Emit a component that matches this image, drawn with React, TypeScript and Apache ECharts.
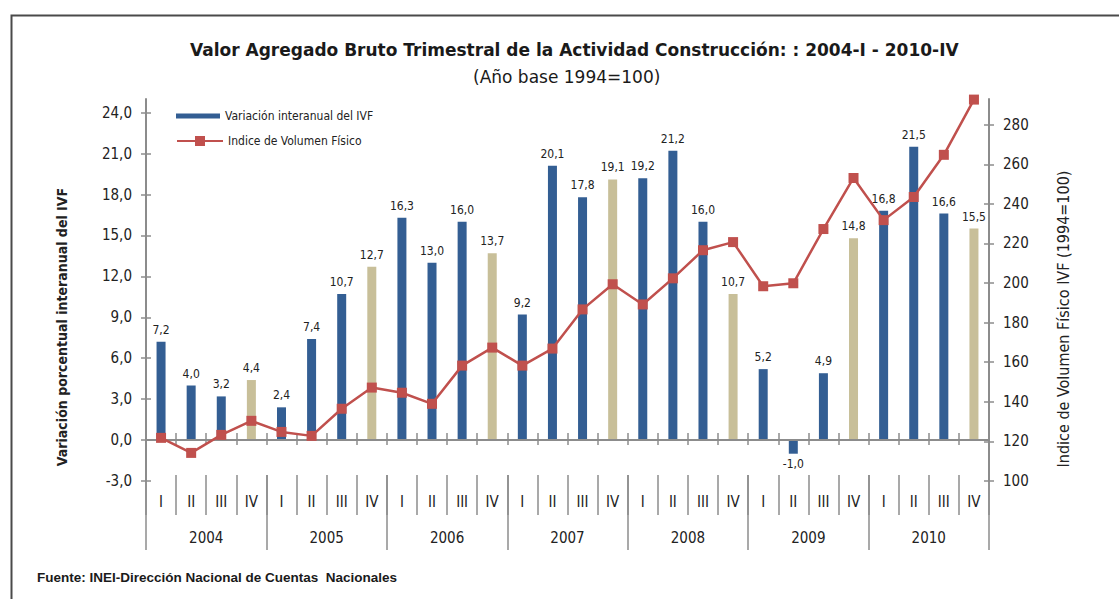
import React, { useEffect, useRef } from 'react';
import * as echarts from 'echarts';

const years = ['2004', '2005', '2006', '2007', '2008', '2009', '2010'];
const quarterNames = ['I', 'II', 'III', 'IV'];
const quarters = years.flatMap(() => quarterNames);

// Variación interanual del IVF (%)
const variacion = [
  7.2, 4.0, 3.2, 4.4,
  2.4, 7.4, 10.7, 12.7,
  16.3, 13.0, 16.0, 13.7,
  9.2, 20.1, 17.8, 19.1,
  19.2, 21.2, 16.0, 10.7,
  5.2, -1.0, 4.9, 14.8,
  16.8, 21.5, 16.6, 15.5,
];

// Indice de Volumen Físico (1994=100)
const indice = [
  121.8, 114.2, 123.3, 130.4,
  124.8, 122.8, 136.5, 147.2,
  144.6, 139.0, 158.3, 167.4,
  158.3, 166.9, 186.7, 199.4,
  189.2, 202.4, 216.6, 220.7,
  198.4, 199.9, 227.3, 253.1,
  231.8, 243.5, 264.8, 292.7,
];

const leftTicks = [-3, 0, 3, 6, 9, 12, 15, 18, 21, 24];
const rightTicks = [100, 120, 140, 160, 180, 200, 220, 240, 260, 280];

const barName = 'Variación interanual del IVF';
const lineName = 'Indice de Volumen Físico';

const NARROW = '"Liberation Sans Narrow", "DejaVu Sans Condensed", "Arial Narrow", sans-serif';
const SANS = '"Liberation Sans", Arial, sans-serif';
const WIDE = '"DejaVu Sans", Verdana, sans-serif';
const AXIS = '#8c8c8c';
const TEXT = '#222';
const BLUE = '#335E93';
const TAN = '#C8BF99';
const RED = '#C0504D';

const fmt = (v: number) => v.toFixed(1).replace('.', ',');

export default function App() {
  const ref = useRef<HTMLDivElement>(null);

  useEffect(() => {
    if (!ref.current) return;
    const chart = echarts.init(ref.current, null, { renderer: 'svg' });

    const axisLineStyle = { color: AXIS, width: 2 };
    const tickStyle = { color: AXIS, width: 1.5 };

    const option: any = {
      animation: false,
      backgroundColor: '#fff',
      title: [
        {
          text: 'Valor Agregado Bruto Trimestral de la Actividad Construcción: : 2004-I - 2010-IV',
          left: 190,
          top: 41,
          padding: 0,
          textStyle: { fontFamily: WIDE, fontWeight: 'bold', fontSize: 17, color: '#1a1a1a' },
        },
        {
          text: '(Año base 1994=100)',
          left: 473,
          top: 68,
          padding: 0,
          textStyle: { fontFamily: WIDE, fontWeight: 'normal', fontSize: 17, color: '#1a1a1a' },
        },
        {
          text: 'Fuente: INEI-Dirección Nacional de Cuentas  Nacionales',
          left: 37,
          top: 570,
          padding: 0,
          textStyle: { fontFamily: SANS, fontWeight: 'bold', fontSize: 13.5, color: '#1a1a1a' },
        },
      ],
      legend: [
        {
          data: [{ name: barName, icon: 'rect' }],
          left: 176,
          top: 110,
          padding: 0,
          itemWidth: 44,
          itemHeight: 5,
          itemGap: 5,
          selectedMode: false,
          textStyle: { fontFamily: NARROW, fontSize: 12, color: TEXT },
        },
        {
          data: [lineName],
          left: 176,
          top: 135,
          padding: 0,
          itemWidth: 46,
          itemHeight: 12.5,
          selectedMode: false,
          textStyle: { fontFamily: NARROW, fontSize: 12, color: TEXT },
        },
      ],
      grid: { left: 146, right: 130, top: 99, bottom: 118, containLabel: false },
      xAxis: [
        {
          type: 'category',
          data: quarters,
          position: 'bottom',
          boundaryGap: true,
          axisLine: { show: true, onZero: true, onZeroAxisIndex: 0, lineStyle: axisLineStyle },
          axisTick: { show: true, length: 5, lineStyle: tickStyle },
          axisLabel: { show: false },
          splitLine: { show: false },
          z: 3,
        },
        {
          type: 'category',
          data: quarters,
          position: 'bottom',
          boundaryGap: true,
          axisLine: { show: true, onZero: true, onZeroAxisIndex: 0, lineStyle: axisLineStyle },
          axisTick: { show: true, inside: true, length: 7, lineStyle: tickStyle },
          axisLabel: { show: false },
          splitLine: { show: false },
          z: 3,
        },
        {
          type: 'category',
          data: quarters,
          position: 'bottom',
          offset: -6,
          boundaryGap: true,
          axisLine: { show: false, onZero: false },
          axisTick: { show: true, length: 40, lineStyle: tickStyle },
          axisLabel: { show: true, margin: 19, fontFamily: NARROW, fontSize: 15, color: TEXT, interval: 0 },
          splitLine: { show: false },
        },
        {
          type: 'category',
          data: years,
          position: 'bottom',
          offset: -6,
          boundaryGap: true,
          axisLine: { show: false, onZero: false },
          axisTick: { show: true, length: 75, lineStyle: tickStyle },
          axisLabel: { show: true, margin: 55, fontFamily: NARROW, fontSize: 15, color: TEXT, interval: 0 },
          splitLine: { show: false },
        },
      ],
      yAxis: [
        {
          type: 'value',
          position: 'left',
          min: -3,
          max: 25,
          interval: 3,
          axisLine: { show: true, lineStyle: axisLineStyle },
          axisTick: { show: true, length: 5, lineStyle: tickStyle, customValues: leftTicks },
          axisLabel: {
            show: true,
            margin: 14,
            customValues: leftTicks,
            formatter: (v: number) => fmt(v),
            fontFamily: NARROW,
            fontSize: 15,
            color: TEXT,
          },
          splitLine: { show: false },
        },
        {
          type: 'value',
          position: 'right',
          min: 100,
          max: 293,
          interval: 20,
          axisLine: { show: true, lineStyle: axisLineStyle },
          axisTick: { show: true, length: 5, lineStyle: tickStyle, customValues: rightTicks },
          axisLabel: {
            show: true,
            margin: 14,
            customValues: rightTicks,
            fontFamily: NARROW,
            fontSize: 15,
            color: TEXT,
          },
          splitLine: { show: false },
        },
        {
          type: 'value',
          position: 'left',
          min: -3,
          max: 25,
          interval: 3,
          axisLine: { show: false },
          axisTick: { show: true, inside: true, length: 5, lineStyle: tickStyle, customValues: leftTicks },
          axisLabel: { show: false },
          splitLine: { show: false },
        },
        {
          type: 'value',
          position: 'right',
          min: 100,
          max: 293,
          interval: 20,
          axisLine: { show: false },
          axisTick: { show: true, inside: true, length: 5, lineStyle: tickStyle, customValues: rightTicks },
          axisLabel: { show: false },
          splitLine: { show: false },
        },
      ],
      series: [
        {
          name: barName,
          type: 'bar',
          xAxisIndex: 0,
          yAxisIndex: 0,
          barWidth: 9,
          itemStyle: { color: BLUE },
          data: variacion.map((v, i) => ({
            value: v,
            itemStyle: { color: i % 4 === 3 ? TAN : BLUE },
            label: v < 0 ? { position: 'bottom', distance: 4 } : undefined,
          })),
          label: {
            show: true,
            position: 'top',
            distance: 6,
            formatter: (p: any) => fmt(p.value),
            fontFamily: NARROW,
            fontSize: 12,
            color: TEXT,
          },
          z: 2,
        },
        {
          name: lineName,
          type: 'line',
          xAxisIndex: 0,
          yAxisIndex: 1,
          data: indice,
          symbol: 'rect',
          symbolSize: 10,
          itemStyle: { color: RED },
          lineStyle: { color: RED, width: 2.5 },
          z: 5,
        },
      ],
      graphic: [
        {
          type: 'rect',
          left: 9,
          top: 13,
          shape: { x: 0, y: 0, width: 1200, height: 700 },
          style: { fill: 'none', stroke: '#4a4a4a', lineWidth: 2 },
          silent: true,
        },
        {
          type: 'text',
          x: 62,
          y: 327,
          rotation: Math.PI / 2,
          style: {
            text: 'Variación porcentual interanual del IVF',
            fontFamily: NARROW,
            fontWeight: 'bold',
            fontSize: 14,
            fill: TEXT,
            align: 'center',
            verticalAlign: 'middle',
          },
        },
        {
          type: 'text',
          x: 1063,
          y: 319,
          rotation: Math.PI / 2,
          style: {
            text: 'Indice de Volumen Físico IVF (1994=100)',
            fontFamily: NARROW,
            fontWeight: 'normal',
            fontSize: 16,
            fill: TEXT,
            align: 'center',
            verticalAlign: 'middle',
          },
        },
      ],
    };

    chart.setOption(option);
    return () => chart.dispose();
  }, []);

  return (
    <div
      ref={ref}
      style={{ position: 'absolute', left: 0, top: 0, width: 1119, height: 599 }}
    />
  );
}
